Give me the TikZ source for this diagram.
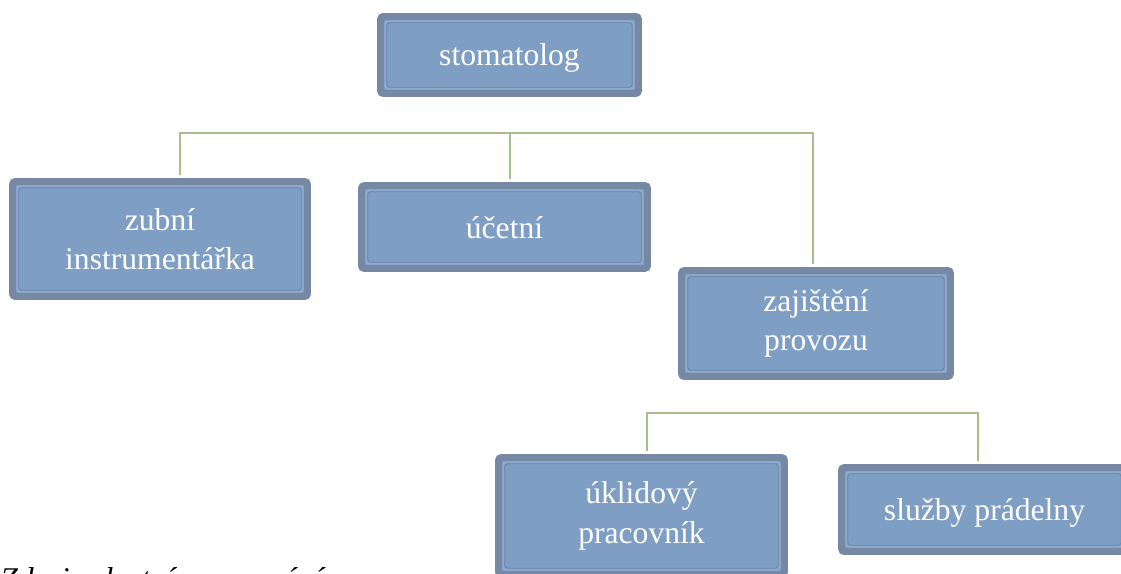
\documentclass[tikz,border=0pt]{standalone}
\usepackage{fontspec}
\setmainfont{Liberation Serif}
\usetikzlibrary{positioning}

\definecolor{boxedge}{HTML}{7688A4}
\definecolor{boxfill}{HTML}{7E9EC3}
\definecolor{boxlight}{HTML}{8CA9CE}
\definecolor{boxdark}{HTML}{6E86A8}
\definecolor{connline}{HTML}{A8BE8C}

\begin{document}
\begin{tikzpicture}[
    x=0.02cm, y=-0.02cm,
    orgbox/.style={rectangle, rounded corners=0.06cm, fill=boxfill, draw=boxedge,
        line width=0.14cm, inner sep=0pt, align=center, text=white,
        font=\fontsize{18}{22.5}\selectfont,
        path picture={
            \draw[boxlight, line width=0.045cm]
                ([shift={(0.09cm,-0.09cm)}]path picture bounding box.north west) rectangle
                ([shift={(-0.09cm,0.09cm)}]path picture bounding box.south east);
            \draw[boxdark, line width=0.015cm]
                ([shift={(0.125cm,-0.125cm)}]path picture bounding box.north west) rectangle
                ([shift={(-0.125cm,0.125cm)}]path picture bounding box.south east);
        }},
    oneline/.style={text depth=0pt},
    conn/.style={draw=connline, line width=0.04cm, shorten <=0.07cm, shorten >=0.07cm}
]
    \useasboundingbox (0,0) rectangle (1121,574);

    % vedoucí
    \node[orgbox, oneline, minimum width=5.16cm, minimum height=1.54cm] (stomatolog) at (509.5,55) {stomatolog};

    % první úroveň
    \node[orgbox, minimum width=5.90cm, minimum height=2.30cm] (zubni) at (160,239) {zubní\\instrumentářka};
    \node[orgbox, oneline, minimum width=5.72cm, minimum height=1.66cm] (ucetni) at (504.5,227) {účetní};
    \node[orgbox, minimum width=5.38cm, minimum height=2.12cm] (provoz) at (816,323.5) {zajištění\\provozu};

    % druhá úroveň
    \node[orgbox, minimum width=5.72cm, minimum height=2.34cm] (uklid) at (641.5,516) {úklidový\\pracovník};
    \node[orgbox, oneline, minimum width=5.72cm, minimum height=1.68cm] (pradelna) at (984.5,509.5) {služby prádelny};

    % spojnice
    \coordinate (bus1) at (0,133);
    \coordinate (bus2) at (0,413);
    \draw[conn] ([xshift=0.4cm]zubni.north) |- ([xshift=-0.06cm]bus1 -| provoz.north) -- ([xshift=-0.06cm]provoz.north);
    \draw[conn, shorten <=0pt] ([xshift=0.1cm]ucetni.north |- bus1) -- ([xshift=0.1cm]ucetni.north);
    \draw[conn] ([xshift=0.1cm]uklid.north) |- ([xshift=-0.13cm]bus2 -| pradelna.north) -- ([xshift=-0.13cm]pradelna.north);

    % zdroj
    \node[anchor=base west, inner sep=0pt, font=\fontsize{18}{22.5}\selectfont\itshape] (zdroj) at (0,589) {Zdroj: vlastní zpracování};
\end{tikzpicture}
\end{document}
